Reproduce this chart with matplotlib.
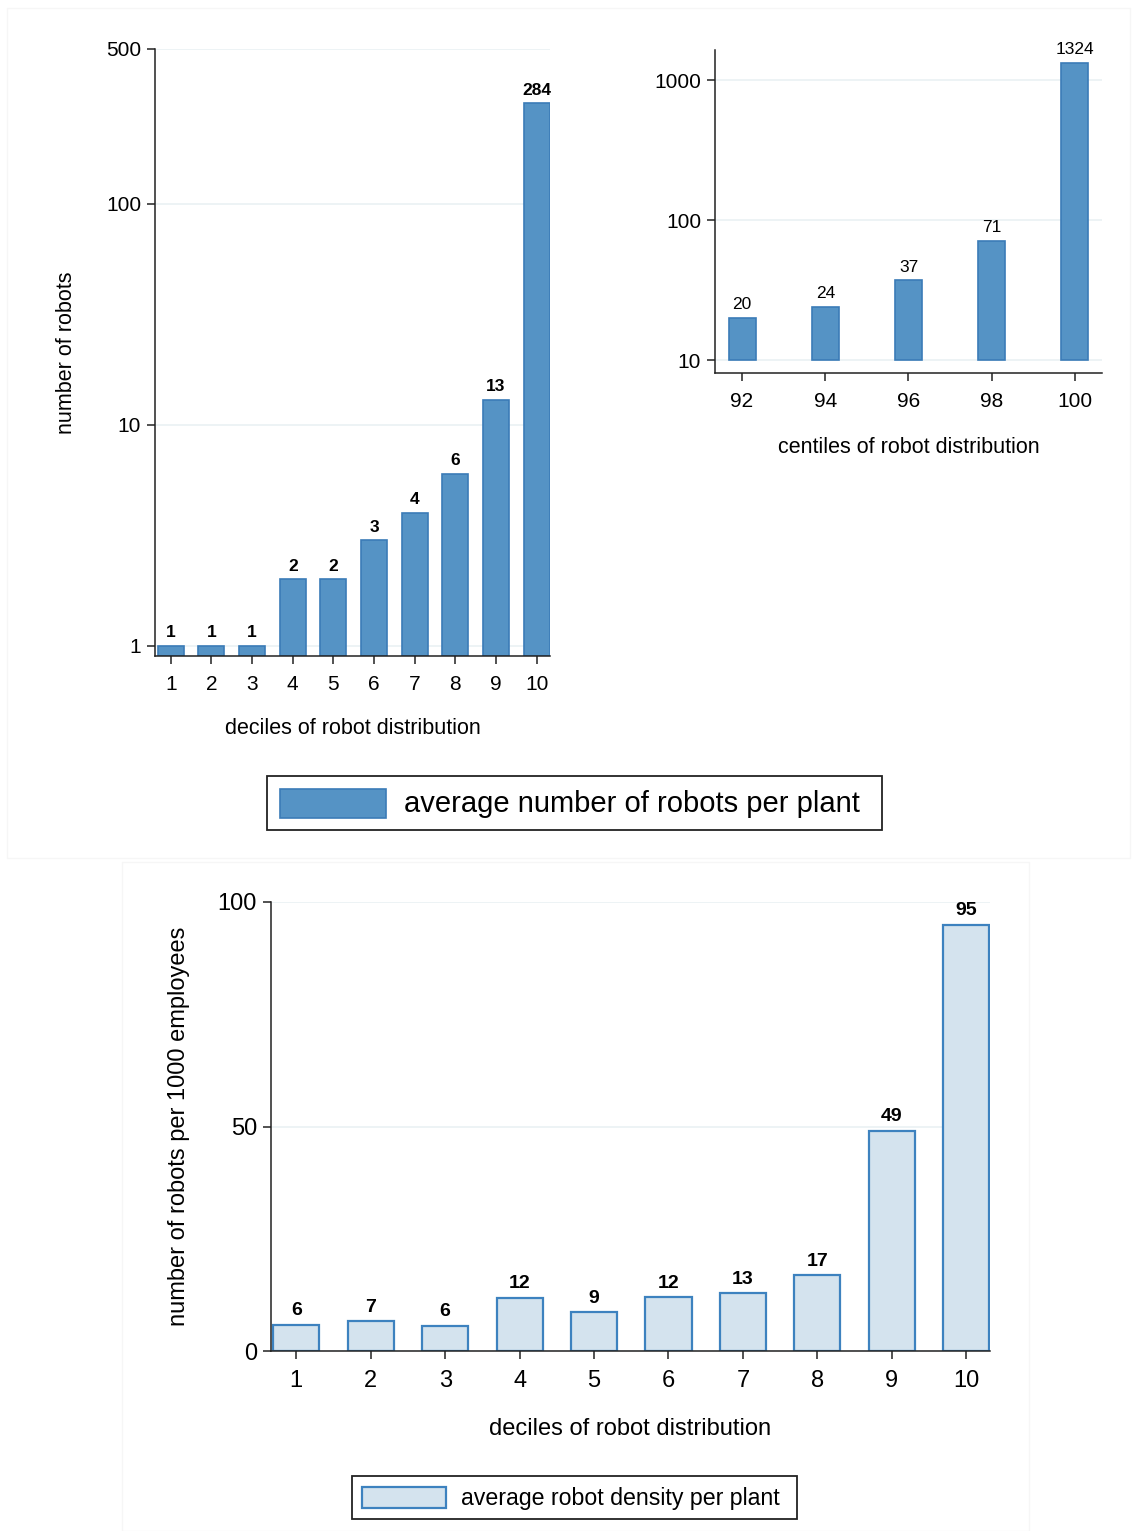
import matplotlib
matplotlib.use("Agg")
import matplotlib.pyplot as plt
from matplotlib.patches import Rectangle
import numpy as np

plt.rcParams['font.family'] = ['Liberation Sans', 'DejaVu Sans']

# ---- data ----
deciles = [1, 2, 3, 4, 5, 6, 7, 8, 9, 10]
avg_robots = [1, 1, 1, 2, 2, 3, 4, 6, 13, 284]
centiles = [92, 94, 96, 98, 100]
avg_robots_centiles = [20, 24, 37, 71, 1324]
robot_density = [5.8, 6.6, 5.6, 11.8, 8.6, 12.0, 12.9, 16.9, 49.0, 94.9]
density_labels = ["6", "7", "6", "12", "9", "12", "13", "17", "49", "95"]

top_ticks_left = [1, 10, 100, 500]
top_ticks_right = [10, 100, 1000]
bottom_ticks = [0, 50, 100]

W, H = 1137, 1531
fig = plt.figure(figsize=(W / 100, H / 100), dpi=100)

FILL_DARK = '#5593c5'
EDGE_DARK = '#3b7bb7'
FILL_LIGHT = '#d4e3ee'
EDGE_LIGHT = '#3d82bf'
GRID = '#eaf1f4'
AX = '#222222'


def ax_rect(l, r, t, b):
    return [l / W, 1 - b / H, (r - l) / W, (b - t) / H]


# panel backgrounds (faint borders)
fig.patches.append(Rectangle((7 / W, 1 - 858 / H), (1130 - 7) / W, (858 - 8) / H,
                             transform=fig.transFigure, fill=False,
                             edgecolor='#f6f6f6', lw=1))
fig.patches.append(Rectangle((122 / W, 0), (1029 - 122) / W, 1 - 862 / H,
                             transform=fig.transFigure, fill=False,
                             edgecolor='#f6f6f6', lw=1))


def style(ax):
    for s in ['top', 'right']:
        ax.spines[s].set_visible(False)
    for s in ['left', 'bottom']:
        ax.spines[s].set_color(AX)
        ax.spines[s].set_linewidth(1.1)
    ax.tick_params(axis='both', direction='out', length=6, width=1.1, color=AX,
                   pad=4)
    ax.tick_params(axis='x', pad=7.5)
    ax.set_axisbelow(True)


# ---- top-left ----
ax1 = fig.add_axes(ax_rect(155, 550, 49, 656))
style(ax1)
ax1.set_yscale('log')
ybot = 10 ** (-10 / 220.5)
ax1.set_ylim(ybot, 500)
ax1.set_xlim(0.61, 10.33)
ax1.bar(deciles, np.array(avg_robots) - ybot, bottom=ybot, width=0.64,
        color=FILL_DARK, edgecolor=EDGE_DARK, linewidth=1.2)
ax1.set_yticks(top_ticks_left)
ax1.set_yticklabels([str(t) for t in top_ticks_left], fontsize=15)
ax1.yaxis.set_minor_locator(matplotlib.ticker.NullLocator())
ax1.set_xticks(deciles)
ax1.set_xticklabels([str(d) for d in deciles], fontsize=15)
ax1.grid(axis='y', color=GRID, lw=1.2)
for x, v in zip(deciles, avg_robots):
    ax1.annotate(str(v), (x, v), xytext=(0, 4), textcoords='offset points',
                 ha='center', va='bottom', fontsize=12.5, fontweight='bold')
ax1.set_xlabel('deciles of robot distribution', fontsize=15.5, labelpad=17.5)
ax1.set_ylabel('number of robots', fontsize=15.5, labelpad=21)

# ---- top-right ----
ax2 = fig.add_axes(ax_rect(715, 1102, 50, 373))
style(ax2)
ax2.set_yscale('log')
ax2.set_ylim(8.08, 1638)
ax2.set_xlim(91.35, 100.65)
ax2.bar(centiles, np.array(avg_robots_centiles) - 10, bottom=10, width=0.65,
        color=FILL_DARK, edgecolor=EDGE_DARK, linewidth=1.2)
ax2.set_yticks(top_ticks_right)
ax2.set_yticklabels([str(t) for t in top_ticks_right], fontsize=15)
ax2.yaxis.set_minor_locator(matplotlib.ticker.NullLocator())
ax2.set_xticks(centiles)
ax2.set_xticklabels([str(c) for c in centiles], fontsize=15)
ax2.grid(axis='y', color=GRID, lw=1.2)
for x, v in zip(centiles, avg_robots_centiles):
    ax2.annotate(str(v), (x, v), xytext=(0, 4), textcoords='offset points',
                 ha='center', va='bottom', fontsize=12.5)
ax2.set_xlabel('centiles of robot distribution', fontsize=15.5, labelpad=19)

# legend 1
fig.patches.append(Rectangle((267 / W, 1 - 830 / H), (882 - 267) / W, 54 / H,
                             transform=fig.transFigure, fill=True,
                             facecolor='white', edgecolor=AX, lw=1.3))
fig.patches.append(Rectangle((280 / W, 1 - 818 / H), (386 - 280) / W, 29 / H,
                             transform=fig.transFigure, facecolor=FILL_DARK,
                             edgecolor=EDGE_DARK, lw=1.2))
fig.text(404 / W, 1 - 804 / H, 'average number of robots per plant',
         fontsize=21, ha='left', va='center')

# ---- bottom ----
ax3 = fig.add_axes(ax_rect(271, 990, 902, 1351))
style(ax3)
ax3.set_ylim(0, 100)
ax3.set_xlim(0.66, 10.32)
ax3.bar(deciles, robot_density, width=0.62, color=FILL_LIGHT,
        edgecolor=EDGE_LIGHT, linewidth=1.6)
ax3.set_yticks(bottom_ticks)
ax3.set_yticklabels([str(t) for t in bottom_ticks], fontsize=17)
ax3.set_xticks(deciles)
ax3.set_xticklabels([str(d) for d in deciles], fontsize=17)
ax3.grid(axis='y', color=GRID, lw=1.2)
ax3.spines['left'].set_bounds(0, 100)
for x, v, lab in zip(deciles, robot_density, density_labels):
    ax3.annotate(lab, (x, v), xytext=(0, 4), textcoords='offset points',
                 ha='center', va='bottom', fontsize=14, fontweight='bold')
ax3.set_xlabel('deciles of robot distribution', fontsize=17, labelpad=19)
ax3.set_ylabel('number of robots per 1000 employees', fontsize=17, labelpad=20)

# legend 2
fig.patches.append(Rectangle((352 / W, 1 - 1519 / H), (797 - 352) / W, 43 / H,
                             transform=fig.transFigure, fill=True,
                             facecolor='white', edgecolor=AX, lw=1.3))
fig.patches.append(Rectangle((362 / W, 1 - 1508 / H), (446 - 362) / W, 21 / H,
                             transform=fig.transFigure, facecolor=FILL_LIGHT,
                             edgecolor=EDGE_LIGHT, lw=1.6))
fig.text(461 / W, 1 - 1498 / H, 'average robot density per plant',
         fontsize=16.7, ha='left', va='center')

fig.savefig('out.png', dpi=100)
